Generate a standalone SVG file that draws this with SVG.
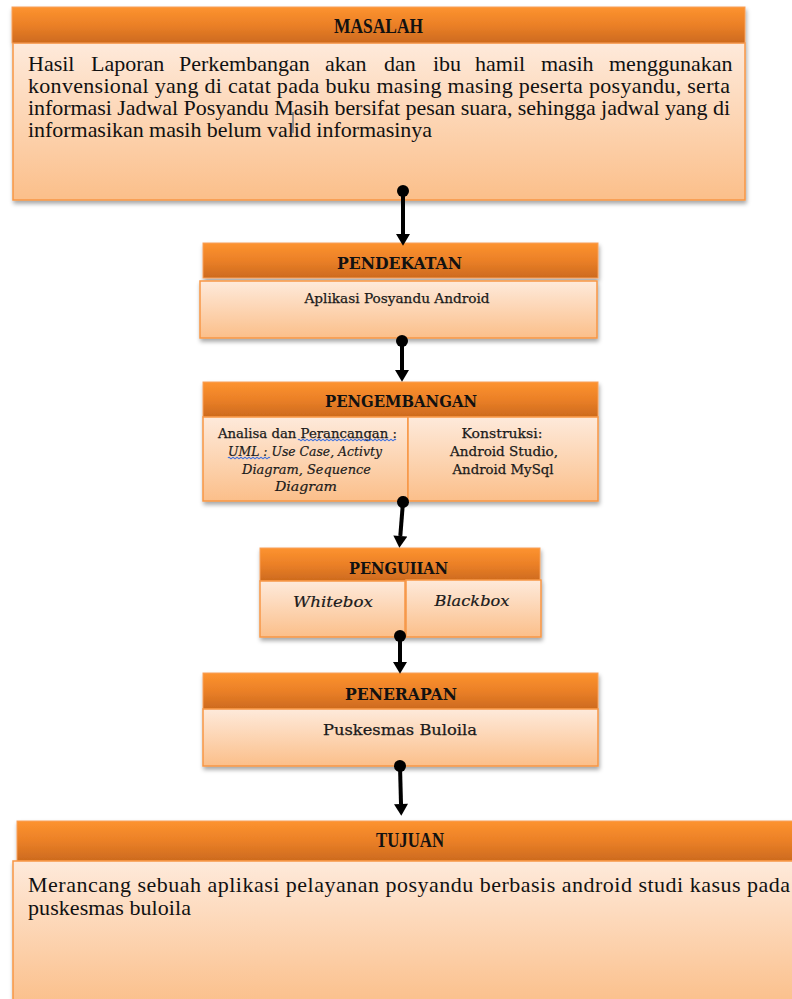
<svg xmlns="http://www.w3.org/2000/svg" width="792" height="999" viewBox="0 0 792 999">
<defs>
<linearGradient id="hdr" x1="0" y1="0" x2="0" y2="1">
<stop offset="0" stop-color="#FD932F"/>
<stop offset="0.5" stop-color="#EB8027"/>
<stop offset="1" stop-color="#CD6A1E"/>
</linearGradient>
<linearGradient id="body" x1="0" y1="0" x2="0" y2="1">
<stop offset="0" stop-color="#FEEADB"/>
<stop offset="1" stop-color="#FBBF8A"/>
</linearGradient>
<filter id="sh" x="-5%" y="-10%" width="110%" height="130%">
<feDropShadow dx="1" dy="3" stdDeviation="2" flood-color="#000" flood-opacity="0.35"/>
</filter>
<marker id="arr" markerUnits="userSpaceOnUse" markerWidth="14" markerHeight="14" viewBox="0 0 10 12" refX="0" refY="6" orient="auto">
<path d="M0,0 L10,6 L0,12 z" fill="#000"/>
</marker>
<marker id="dot" markerUnits="userSpaceOnUse" markerWidth="14" markerHeight="14" viewBox="-7 -7 14 14" refX="0" refY="0" orient="auto">
<circle cx="0" cy="0" r="6" fill="#000"/>
</marker>
</defs>
<style>
.hdr{fill:url(#hdr);stroke:#F7A05A;stroke-width:1}
.bd{fill:url(#body);stroke:#F79646;stroke-width:1.5}
.sh{filter:url(#sh)}
.t{font-family:'Liberation Serif','Times New Roman',Times,serif;fill:#111}
.tb{font-family:'Liberation Serif','Times New Roman',Times,serif;font-weight:bold;fill:#111}
.c{font-family:'DejaVu Serif',serif;fill:#1a1a1a;stroke:#1a1a1a;stroke-width:0.25}
.cb{font-family:'DejaVu Serif',serif;font-weight:bold;fill:#111}
.ci{font-family:'DejaVu Serif',serif;font-style:italic;fill:#1a1a1a;stroke:#1a1a1a;stroke-width:0.2}
.m{text-anchor:middle}
.wave{fill:none;stroke:#3B6FE0;stroke-width:1.1}
.conn line{stroke:#000;stroke-width:4;marker-start:url(#dot);marker-end:url(#arr)}
</style>

<g id="masalah">
<g class="sh">
<rect class="bd" x="13" y="43" width="732" height="157"/>
<rect class="hdr" x="12" y="7" width="733" height="36"/>
</g>
<text class="tb m" x="378.5" y="33" font-size="20" textLength="89" lengthAdjust="spacingAndGlyphs">MASALAH</text>
<text class="t" y="71" font-size="22"><tspan x="28">Hasil</tspan><tspan x="91">Laporan</tspan><tspan x="179">Perkembangan</tspan><tspan x="325">akan</tspan><tspan x="384">dan</tspan><tspan x="433">ibu</tspan><tspan x="475">hamil</tspan><tspan x="541">masih</tspan><tspan x="609">menggunakan</tspan></text>
<text class="t" x="28" y="93" font-size="22" textLength="702" lengthAdjust="spacing">konvensional yang di catat pada buku masing masing peserta posyandu, serta</text>
<text class="t" x="28" y="115" font-size="22" textLength="702" lengthAdjust="spacing">informasi Jadwal Posyandu Masih bersifat pesan suara, sehingga jadwal yang di</text>
<text class="t" x="28" y="137" font-size="22" textLength="404" lengthAdjust="spacing">informasikan masih belum valid informasinya</text>
<line x1="293" y1="112" x2="293" y2="133" stroke="#2A4A6A" stroke-width="1"/>
</g>

<g id="pendekatan">
<g class="sh">
<rect class="hdr" x="203" y="243" width="395" height="35"/>
<rect class="bd" x="200" y="281" width="397" height="57"/>
</g>
<text class="cb m" x="399.5" y="269" font-size="17" textLength="125" lengthAdjust="spacingAndGlyphs">PENDEKATAN</text>
<text class="c m" x="397" y="303" font-size="13" textLength="185" lengthAdjust="spacingAndGlyphs">Aplikasi Posyandu Android</text>
</g>

<g id="pengembangan">
<g class="sh">
<rect class="hdr" x="203" y="382" width="395" height="35"/>
<rect class="bd" x="203" y="417" width="205" height="84"/>
<rect class="bd" x="408" y="417" width="190" height="84"/>
</g>
<text class="cb m" x="401" y="407" font-size="17" textLength="152" lengthAdjust="spacingAndGlyphs">PENGEMBANGAN</text>
<text class="c m" x="307.5" y="438" font-size="13" textLength="179" lengthAdjust="spacingAndGlyphs">Analisa dan Perancangan :</text>
<text class="ci m" x="305" y="456" font-size="13" textLength="154" lengthAdjust="spacingAndGlyphs">UML : Use Case, Activty</text>
<text class="ci m" x="306.5" y="474" font-size="13" textLength="129" lengthAdjust="spacingAndGlyphs">Diagram, Sequence</text>
<text class="ci m" x="306" y="491" font-size="13" textLength="62" lengthAdjust="spacingAndGlyphs">Diagram</text>
<path class="wave" d="M298 440 q1 -1.6 2 0 t2 0 t2 0 t2 0 t2 0 t2 0 t2 0 t2 0 t2 0 t2 0 t2 0 t2 0 t2 0 t2 0 t2 0 t2 0 t2 0 t2 0 t2 0 t2 0 t2 0 t2 0 t2 0 t2 0 t2 0 t2 0 t2 0 t2 0 t2 0 t2 0 t2 0 t2 0 t2 0 t2 0 t2 0 t2 0 t2 0 t2 0 t2 0 t2 0 t2 0 t2 0 t2 0 t2 0 t2 0 t2 0 t2 0 t2 0 t2 0"/>
<path class="wave" d="M228 458 q1 -1.6 2 0 t2 0 t2 0 t2 0 t2 0 t2 0 t2 0 t2 0 t2 0 t2 0 t2 0 t2 0 t2 0 t2 0 t2 0 t2 0 t2 0 t2 0 t2 0 t2 0 t2 0"/>
<text class="c m" x="502" y="438" font-size="13" textLength="81" lengthAdjust="spacingAndGlyphs">Konstruksi:</text>
<text class="c m" x="504" y="456" font-size="13" textLength="108" lengthAdjust="spacingAndGlyphs">Android Studio,</text>
<text class="c m" x="503" y="474" font-size="13" textLength="101" lengthAdjust="spacingAndGlyphs">Android MySql</text>
</g>

<g id="penguiian">
<g class="sh">
<rect class="hdr" x="260" y="548" width="280" height="33"/>
<rect class="bd" x="260" y="581" width="145" height="56"/>
<rect class="bd" x="406" y="580" width="135" height="57"/>
</g>
<text class="cb m" x="398.5" y="574" font-size="17" textLength="99" lengthAdjust="spacingAndGlyphs">PENGUIIAN</text>
<text class="ci m" x="333" y="607" font-size="15" textLength="80" lengthAdjust="spacingAndGlyphs">Whitebox</text>
<text class="ci m" x="472" y="606" font-size="15" textLength="75" lengthAdjust="spacingAndGlyphs">Blackbox</text>
</g>

<g id="penerapan">
<g class="sh">
<rect class="hdr" x="203" y="673" width="395" height="36"/>
<rect class="bd" x="203" y="709" width="395" height="57"/>
</g>
<text class="cb m" x="401" y="700" font-size="17" textLength="112" lengthAdjust="spacingAndGlyphs">PENERAPAN</text>
<text class="c m" x="400" y="735" font-size="15" textLength="154" lengthAdjust="spacingAndGlyphs">Puskesmas Buloila</text>
</g>

<g id="tujuan">
<g class="sh">
<rect class="hdr" x="17" y="821" width="785" height="40"/>
<rect class="bd" x="13" y="861" width="790" height="145"/>
</g>
<text class="tb m" x="410" y="847" font-size="20" textLength="68" lengthAdjust="spacingAndGlyphs">TUJUAN</text>
<text x="28" y="892" font-family="Liberation Serif, serif" fill="#111" font-size="22" textLength="762" lengthAdjust="spacing">Merancang sebuah aplikasi pelayanan posyandu berbasis android studi kasus pada</text>
<text x="28" y="915" font-family="Liberation Serif, serif" fill="#111" font-size="22" textLength="163" lengthAdjust="spacing">puskesmas buloila</text>
</g>

<g id="connectors" class="conn">
<line x1="403" y1="191" x2="403" y2="234"/>
<line x1="402" y1="341" x2="402" y2="370"/>
<line x1="403" y1="502" x2="400.3" y2="536"/>
<line x1="400" y1="636" x2="400" y2="662"/>
<line x1="400" y1="766" x2="401" y2="804"/>
</g>
</svg>
